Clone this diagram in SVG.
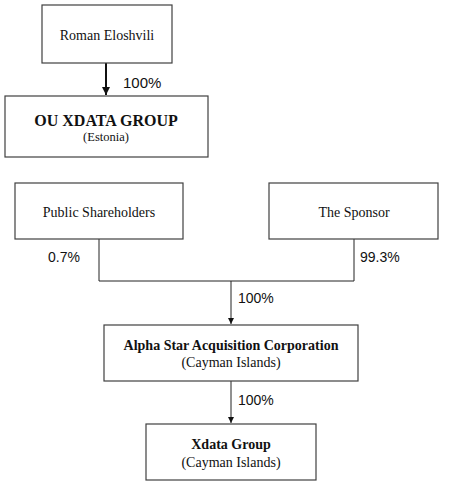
<svg xmlns="http://www.w3.org/2000/svg" width="450" height="490" viewBox="0 0 450 490">
<style>
.box{fill:#fff;stroke:#404040;stroke-width:1.2}
.t{font-family:"Liberation Serif",serif;fill:#111;text-anchor:middle;font-size:14px}
.b{font-weight:bold}
.p{font-family:"Liberation Sans",Arial,sans-serif;font-size:14px;fill:#111}
.ln{fill:none;stroke:#222;stroke-width:1}
</style>
<defs>
<marker id="a1" viewBox="0 0 10 10" refX="10" refY="5" markerWidth="8" markerHeight="10" markerUnits="userSpaceOnUse" orient="auto"><path d="M0,0L10,5L0,10z" fill="#111"/></marker>
<marker id="a2" viewBox="0 0 10 10" refX="10" refY="5" markerWidth="6" markerHeight="6" markerUnits="userSpaceOnUse" orient="auto"><path d="M0,0L10,5L0,10z" fill="#111"/></marker>
</defs>
<rect width="450" height="490" fill="#fff"/>
<g id="connectors">
<line x1="106" y1="63" x2="106" y2="95" stroke="#111" stroke-width="2" marker-end="url(#a1)"/>
<path class="ln" d="M99,239V281H354V239"/>
<line class="ln" x1="231" y1="281" x2="231" y2="324" marker-end="url(#a2)"/>
<line class="ln" x1="231" y1="381" x2="231" y2="423" marker-end="url(#a2)"/>
<text class="p" x="123" y="88" style="font-size:15px">100%</text>
<text class="p" x="48" y="262">0.7%</text>
<text class="p" x="360" y="262">99.3%</text>
<text class="p" x="238" y="303">100%</text>
<text class="p" x="238" y="405">100%</text>
</g>
<g id="roman"><rect class="box" x="42" y="5" width="130" height="58"/><text class="t" x="107" y="40">Roman Eloshvili</text></g>
<g id="ouxdata"><rect class="box" x="5" y="96" width="203" height="61"/><text class="t b" x="106" y="126" style="font-size:16px">OU XDATA GROUP</text><text class="t" x="106" y="141" style="font-size:12.5px">(Estonia)</text></g>
<g id="public"><rect class="box" x="15" y="183" width="168" height="56"/><text class="t" x="99" y="217">Public Shareholders</text></g>
<g id="sponsor"><rect class="box" x="269" y="183" width="169" height="56"/><text class="t" x="354" y="217">The Sponsor</text></g>
<g id="alpha"><rect class="box" x="104" y="325" width="254" height="56"/><text class="t b" x="231" y="350">Alpha Star Acquisition Corporation</text><text class="t" x="231" y="367">(Cayman Islands)</text></g>
<g id="xdata"><rect class="box" x="146" y="424" width="170" height="56"/><text class="t b" x="231" y="449">Xdata Group</text><text class="t" x="231" y="467">(Cayman Islands)</text></g>
</svg>
